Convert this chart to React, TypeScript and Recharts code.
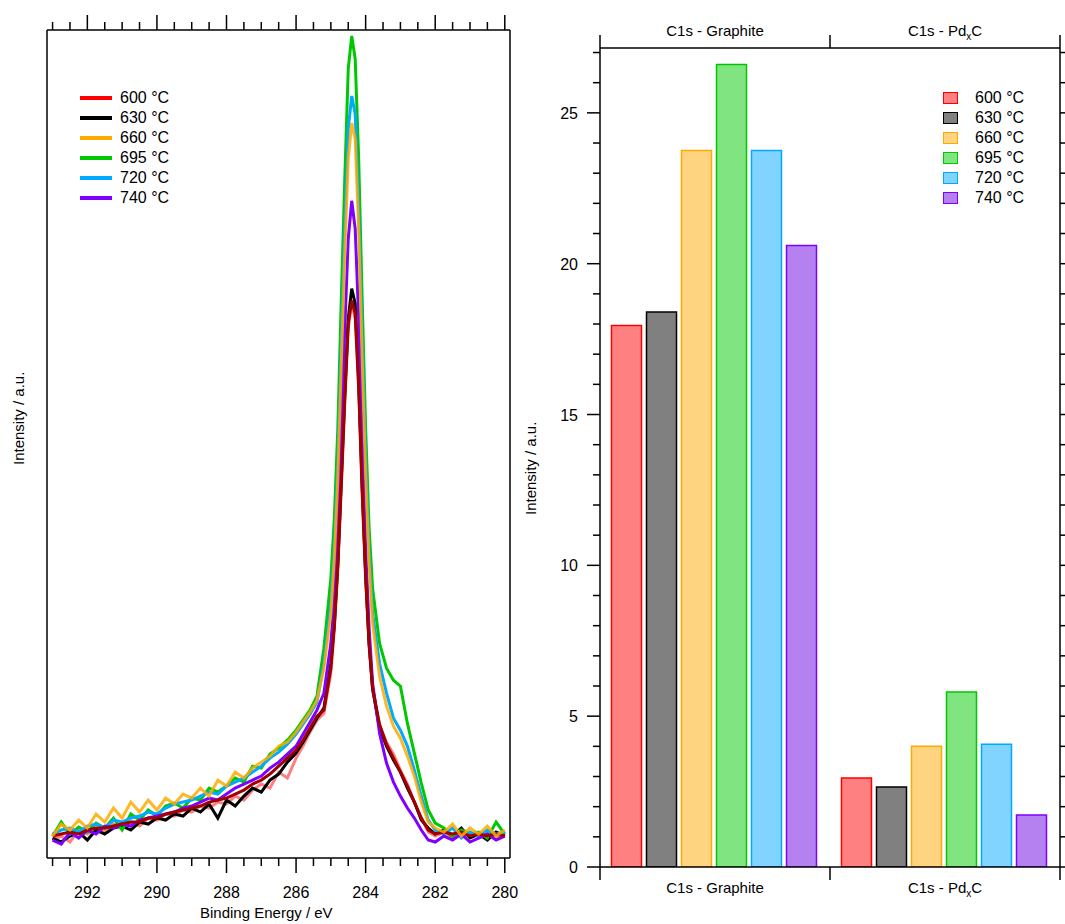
import { LineChart, Line, BarChart, Bar, XAxis, YAxis } from 'recharts';

const FONT = '"Liberation Sans", Arial, sans-serif';

// ---- XPS spectra (C1s), intensity in arbitrary units ----
const energies = [
  293, 292.75, 292.5, 292.25, 292, 291.75, 291.5, 291.25, 291, 290.75, 290.5, 290.25, 290,
  289.75, 289.5, 289.25, 289, 288.75, 288.5, 288.25, 288, 287.75, 287.5, 287.25, 287, 286.75,
  286.5, 286.25, 286, 285.8, 285.6, 285.4, 285.2, 285, 284.9, 284.8, 284.7, 284.6, 284.5, 284.4,
  284.3, 284.2, 284.1, 284, 283.9, 283.8, 283.6, 283.4, 283.2, 283, 282.8, 282.6, 282.4, 282.2,
  282, 281.75, 281.5, 281.25, 281, 280.75, 280.5, 280.25, 280,
];
const s600 = [
  18, 22, 16, 28, 24, 30, 26, 34, 30, 36, 32, 40, 38, 44, 42, 48, 46, 52, 50, 56, 54, 62, 58, 68, 74, 70, 86, 80, 100,
  112, 126, 138, 145, 185, 230, 290, 370, 455, 530, 555, 540, 470, 365, 280, 212, 168, 132, 116, 104, 88, 74, 56, 40, 26,
  22, 26, 20, 28, 24, 22, 26, 20, 24,
];
const s600b = [
  22, 24, 26, 24, 28, 30, 30, 32, 34, 36, 36, 40, 40, 44, 46, 48, 50, 52, 56, 58, 60, 64, 68, 74, 78, 84, 92, 100, 108,
  118, 130, 142, 148, 190, 232, 292, 375, 460, 535, 558, 545, 472, 368, 282, 214, 170, 134, 114, 100, 86, 72, 56, 40, 28,
  24, 26, 24, 26, 22, 24, 22, 24, 22,
];
const s630 = [
  20, 16, 22, 26, 18, 28, 24, 30, 32, 28, 36, 34, 40, 38, 44, 42, 50, 46, 54, 40, 58, 52, 62, 70, 66, 78, 84, 96, 105,
  116, 128, 140, 150, 195, 235, 295, 380, 465, 540, 570, 555, 480, 375, 285, 215, 170, 130, 112, 98, 86, 70, 56, 38, 30,
  24, 28, 22, 30, 20, 24, 18, 26, 22,
];
const s660 = [
  22, 34, 28, 38, 30, 44, 36, 50, 40, 56, 46, 58, 48, 60, 54, 64, 60, 70, 62, 78, 72, 86, 80, 90, 96, 102, 112, 116, 126,
  136, 146, 158, 190, 245, 300, 380, 495, 605, 700, 736, 720, 630, 500, 385, 295, 235, 182, 152, 132, 120, 102, 82, 56, 36,
  30, 26, 34, 22, 30, 24, 32, 22, 28,
];
const s695 = [
  22, 36, 24, 31, 26, 35, 30, 40, 28, 44, 38, 48, 42, 52, 55, 50, 60, 58, 70, 66, 72, 80, 76, 92, 90, 104, 110, 118, 128,
  138, 148, 162, 210, 280, 340, 430, 560, 680, 790, 823, 800, 700, 560, 430, 330, 270, 215, 190, 178, 172, 135, 105, 75, 48,
  35, 30, 22, 28, 24, 26, 20, 36, 24,
];
const s720 = [
  24, 28, 30, 26, 32, 34, 30, 38, 36, 40, 42, 46, 44, 50, 54, 56, 58, 62, 66, 64, 72, 76, 80, 86, 92, 100, 106, 114, 124,
  134, 144, 156, 195, 255, 310, 395, 515, 630, 730, 763, 745, 650, 520, 400, 305, 245, 195, 165, 140, 128, 112, 88, 62, 38,
  28, 24, 30, 20, 26, 22, 28, 24, 26,
];
const s740 = [
  18, 14, 26, 20, 28, 24, 32, 30, 34, 32, 38, 40, 42, 44, 46, 50, 52, 56, 60, 58, 64, 70, 74, 78, 82, 90, 96, 104, 112,
  124, 136, 148, 165, 215, 260, 330, 430, 530, 620, 658, 630, 540, 420, 310, 230, 175, 125, 95, 76, 62, 50, 40, 28, 18,
  16, 22, 18, 24, 16, 20, 24, 18, 22,
];
const energyTicks = [
  280, 280.5, 281, 281.5, 282, 282.5, 283, 283.5, 284, 284.5, 285, 285.5, 286, 286.5, 287,
  287.5, 288, 288.5, 289, 289.5, 290, 290.5, 291, 291.5, 292, 292.5, 293,
];

const spectra = energies.map((e, i) => ({
  e, s600: s600[i], s600b: s600b[i], s630: s630[i], s660: s660[i],
  s695: s695[i], s720: s720[i], s740: s740[i],
}));

// ---- peak-fit intensities ----
const categories = ['C1s - Graphite', 'C1s - PdxC'];
const catPositions = [0.5, 1.5];
const temps = ['600 °C', '630 °C', '660 °C', '695 °C', '720 °C', '740 °C'];
const keys = ['t600', 't630', 't660', 't695', 't720', 't740'];
const graphite = [17.95, 18.4, 23.75, 26.6, 23.75, 20.6];
const pdxc = [2.95, 2.65, 4.0, 5.8, 4.07, 1.72];
const lineColors = ['#ff0000', '#000000', '#ffaa00', '#00c800', '#00aaff', '#7f00ff'];
const fillColors = ['#ff8080', '#808080', '#ffd480', '#80e480', '#80d4ff', '#b580f0'];
const intensityTicks = [0, 1, 2, 3, 4, 5, 6, 7, 8, 9, 10, 11, 12, 13, 14, 15, 16, 17, 18, 19, 20, 21, 22, 23, 24, 25, 26, 27];

const bars = categories.map((c, ci) => {
  const row: Record<string, any> = { cat: c, pos: catPositions[ci] };
  keys.forEach((k, i) => { row[k] = ci === 0 ? graphite[i] : pdxc[i]; });
  return row;
});

function EnergyTick({ x, y, payload, top }: any) {
  const v = payload.value;
  const major = v % 2 === 0;
  const len = major ? 15 : 8;
  return (
    <g>
      <line x1={x} x2={x} y1={y} y2={top ? y - len : y + len} stroke="#000" strokeWidth={1.5} />
      {!top && major && v <= 292 && (
        <text x={x} y={y + 40} textAnchor="middle" fontSize={16} fontFamily={FONT} fill="#000">{v}</text>
      )}
    </g>
  );
}

function CatLabel({ x, y, idx }: any) {
  if (idx === 1) {
    return (
      <text x={x} y={y} textAnchor="middle" fontSize={15} fontFamily={FONT} fill="#000">
        <tspan>C1s - Pd</tspan><tspan dy={4} fontSize={10}>x</tspan><tspan dy={-4}>C</tspan>
      </text>
    );
  }
  return <text x={x} y={y} textAnchor="middle" fontSize={15} fontFamily={FONT} fill="#000">{categories[0]}</text>;
}

function EdgeTick({ x, y, payload, top }: any) {
  const v = payload.value;
  if (Number.isInteger(v)) {
    return <line x1={x} x2={x} y1={y} y2={top ? y - 13 : y + 13} stroke="#000" strokeWidth={1.5} />;
  }
  return <CatLabel x={x} y={top ? y - 12 : y + 26} idx={Math.floor(v)} />;
}

function IntTick({ x, y, payload, right }: any) {
  const v = payload.value;
  const major = v % 5 === 0;
  const len = major ? 13 : 7;
  return (
    <g>
      <line x1={x} x2={right ? x + len : x - len} y1={y} y2={y} stroke="#000" strokeWidth={1.5} />
      {!right && major && (
        <text x={x - 22} y={y + 6} textAnchor="end" fontSize={16} fontFamily={FONT} fill="#000">{v}</text>
      )}
    </g>
  );
}

const seriesOrder = [
  { key: 's600', color: '#ff0000', opacity: 0.5 },
  { key: 's630', color: '#000000', opacity: 1 },
  { key: 's695', color: '#00c800', opacity: 1 },
  { key: 's720', color: '#00aaff', opacity: 1 },
  { key: 's740', color: '#7f00ff', opacity: 1 },
  { key: 's600b', color: '#a00000', opacity: 1 },
  { key: 's660', color: '#ffaa00', opacity: 0.85 },
];

export default function App() {
  return (
    <div style={{ position: 'absolute', left: 0, top: 0, width: 1065, height: 924, background: '#fff', fontFamily: FONT }}>
      <div style={{ position: 'absolute', left: 0, top: 0 }}>
        <LineChart width={530} height={924} data={spectra} margin={{ top: 0, right: 19, bottom: 0, left: 46 }}>
          <XAxis dataKey="e" type="number" domain={[279.85, 293.16]} reversed allowDataOverflow
            ticks={energyTicks} interval={0} height={66} tickSize={0} tickMargin={0}
            axisLine={{ stroke: '#000', strokeWidth: 1.5 }} tick={<EnergyTick />} />
          <XAxis xAxisId="top" orientation="top" dataKey="e" type="number" domain={[279.85, 293.16]} reversed allowDataOverflow
            ticks={energyTicks} interval={0} height={30} tickSize={0} tickMargin={0}
            axisLine={{ stroke: '#000', strokeWidth: 1.5 }} tick={<EnergyTick top />} />
          <YAxis width={1} domain={[0, 829]} tick={false} tickLine={false} axisLine={{ stroke: '#000', strokeWidth: 1.5 }} />
          <YAxis yAxisId="r" orientation="right" width={1} domain={[0, 829]} tick={false} tickLine={false}
            axisLine={{ stroke: '#000', strokeWidth: 1.5 }} />
          {seriesOrder.map((s) => (
            <Line key={s.key} dataKey={s.key} stroke={s.color} strokeOpacity={s.opacity} strokeWidth={3}
              dot={false} type="linear" isAnimationActive={false} />
          ))}
        </LineChart>
        <div style={{ position: 'absolute', left: 200, top: 904, fontSize: 15 }}>Binding Energy / eV</div>
        <div style={{ position: 'absolute', left: 10, top: 465, fontSize: 15, transform: 'rotate(-90deg)', transformOrigin: '0 0', whiteSpace: 'nowrap' }}>
          Intensity / a.u.
        </div>
        {temps.map((t, i) => (
          <div key={t} style={{ position: 'absolute', left: 80, top: 89 + i * 20, display: 'flex', alignItems: 'center', fontSize: 16 }}>
            <div style={{ width: 32, height: 4, background: lineColors[i], marginRight: 8 }} />
            {t}
          </div>
        ))}
      </div>

      <div style={{ position: 'absolute', left: 520, top: 0 }}>
        <BarChart width={545} height={924} data={bars} margin={{ top: 0, right: 0, bottom: 0, left: 0 }}
          barCategoryGap="5%" barGap={5}>
          <XAxis dataKey="cat" hide height={0} />
          <XAxis xAxisId="edge" dataKey="pos" type="number" domain={[0, 2]} allowDataOverflow ticks={[0, 0.5, 1, 1.5, 2]} interval={0}
            height={57} tickSize={0} tickMargin={0} axisLine={{ stroke: '#000', strokeWidth: 1.5 }} tick={<EdgeTick />} />
          <XAxis xAxisId="edgeTop" dataKey="pos" orientation="top" type="number" domain={[0, 2]} allowDataOverflow ticks={[0, 0.5, 1, 1.5, 2]} interval={0}
            height={48} tickSize={0} tickMargin={0} axisLine={{ stroke: '#000', strokeWidth: 1.5 }} tick={<EdgeTick top />} />
          <YAxis width={80} domain={[0, 27.15]} ticks={intensityTicks} interval={0} allowDataOverflow
            tickSize={0} tickMargin={0} axisLine={{ stroke: '#000', strokeWidth: 1.5 }} tick={<IntTick />} />
          <YAxis yAxisId="r" orientation="right" width={5} domain={[0, 27.15]} ticks={intensityTicks} interval={0}
            allowDataOverflow tickSize={0} tickMargin={0} axisLine={{ stroke: '#000', strokeWidth: 1.5 }} tick={<IntTick right />} />
          {keys.map((k, i) => (
            <Bar key={k} dataKey={k} fill={fillColors[i]} stroke={lineColors[i]} strokeWidth={1.5} isAnimationActive={false} />
          ))}
        </BarChart>
        <div style={{ position: 'absolute', left: 2, top: 515, fontSize: 15, transform: 'rotate(-90deg)', transformOrigin: '0 0', whiteSpace: 'nowrap' }}>
          Intensity / a.u.
        </div>
        {temps.map((t, i) => (
          <div key={t} style={{ position: 'absolute', left: 423, top: 89 + i * 20, display: 'flex', alignItems: 'center', fontSize: 16 }}>
            <div style={{ width: 13, height: 10, background: fillColors[i], border: `1.5px solid ${lineColors[i]}`, marginRight: 17 }} />
            {t}
          </div>
        ))}
      </div>
    </div>
  );
}
